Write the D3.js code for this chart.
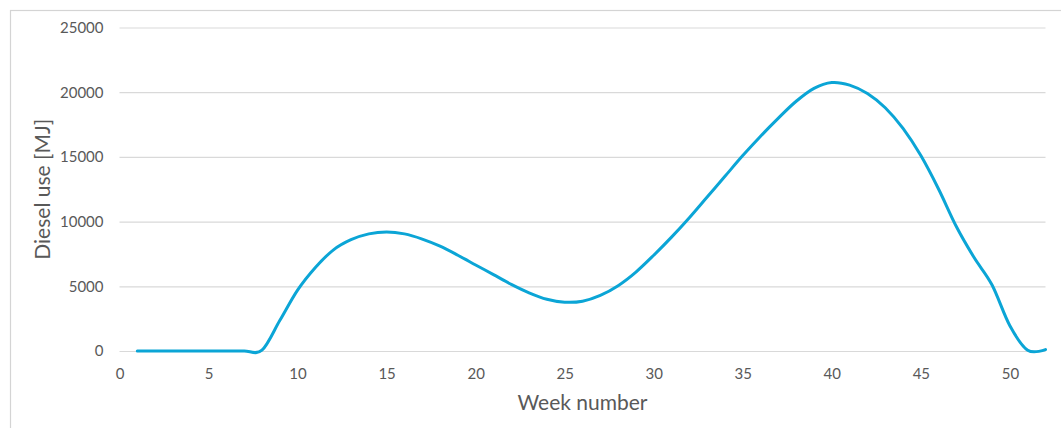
<!DOCTYPE html>
<html>
<head>
<meta charset="utf-8">
<script src="https://cdn.jsdelivr.net/npm/d3@7"></script>
<style>
  html, body { margin: 0; padding: 0; background: #fff; }
  svg { display: block; }
</style>
</head>
<body>
<svg id="chart" width="1061" height="428"></svg>
<script>
// Weekly diesel use, weeks 1–52
const weeks = d3.range(1, 53);
const dieselMJ = [
  0, 0, 0, 0, 0, 0, 0, 60, 2350, 4700,
  6450, 7800, 8600, 9050, 9200, 9050, 8650, 8100, 7400, 6650,
  5900, 5150, 4500, 4000, 3770, 3850, 4300, 5050, 6100, 7400,
  8800, 10300, 11900, 13500, 15100, 16600, 18000, 19300, 20300, 20750,
  20550, 19900, 18800, 17200, 15100, 12500, 9600, 7200, 5100, 1950,
  60, 110
];
const xTicks = [0, 5, 10, 15, 20, 25, 30, 35, 40, 45, 50];
const yTicks = [0, 5000, 10000, 15000, 20000, 25000];

const svg = d3.select("#chart");
const font = "Lato, 'Open Sans', sans-serif";
const textColor = "#595959";

const x = d3.scaleLinear().domain([0, 52]).range([119.5, 1045.5]);
const y = d3.scaleLinear().domain([0, 25000]).range([351, 27.5]);

// chart area outline
svg.append("rect")
  .attr("x", 10.5).attr("y", 10.5)
  .attr("width", 1100).attr("height", 500)
  .attr("fill", "none")
  .attr("stroke", "#d4d4d4")
  .attr("stroke-width", 1.2);

// horizontal gridlines + y tick labels
const yAxis = d3.axisLeft(y).tickValues(yTicks).tickSize(-(x.range()[1] - x.range()[0])).tickPadding(16).tickFormat(d3.format("d"));
const gy = svg.append("g").attr("transform", `translate(${x.range()[0]},0)`).call(yAxis);
gy.select(".domain").remove();
gy.selectAll(".tick line").attr("stroke", "#d9d9d9").attr("stroke-width", 1.2);
gy.selectAll(".tick text").attr("fill", textColor).style("font-family", font).style("font-size", "15px");

// x tick labels (no tick marks)
const xAxis = d3.axisBottom(x).tickValues(xTicks).tickSize(0).tickPadding(17).tickFormat(d3.format("d"));
const gx = svg.append("g").attr("transform", `translate(0,${y(0)})`).call(xAxis);
gx.select(".domain").remove();
gx.selectAll(".tick text").attr("fill", textColor).style("font-family", font).style("font-size", "15px");

// smoothed series line
const line = d3.line()
  .x((d, i) => x(weeks[i]))
  .y(d => y(d))
  .curve(d3.curveCatmullRom.alpha(0));

svg.append("path")
  .datum(dieselMJ)
  .attr("d", line)
  .attr("fill", "none")
  .attr("stroke", "#0ba5d6")
  .attr("stroke-width", 3)
  .attr("stroke-linejoin", "round")
  .attr("stroke-linecap", "round");

// axis titles
svg.append("text")
  .attr("x", (x.range()[0] + x.range()[1]) / 2)
  .attr("y", 410)
  .attr("text-anchor", "middle")
  .attr("fill", textColor)
  .style("font-family", font)
  .style("font-size", "21px")
  .text("Week number");

svg.append("text")
  .attr("transform", `translate(50,${(y(0) + y(25000)) / 2}) rotate(-90)`)
  .attr("text-anchor", "middle")
  .attr("fill", textColor)
  .style("font-family", font)
  .style("font-size", "21px")
  .text("Diesel use [MJ]");
</script>
</body>
</html>
